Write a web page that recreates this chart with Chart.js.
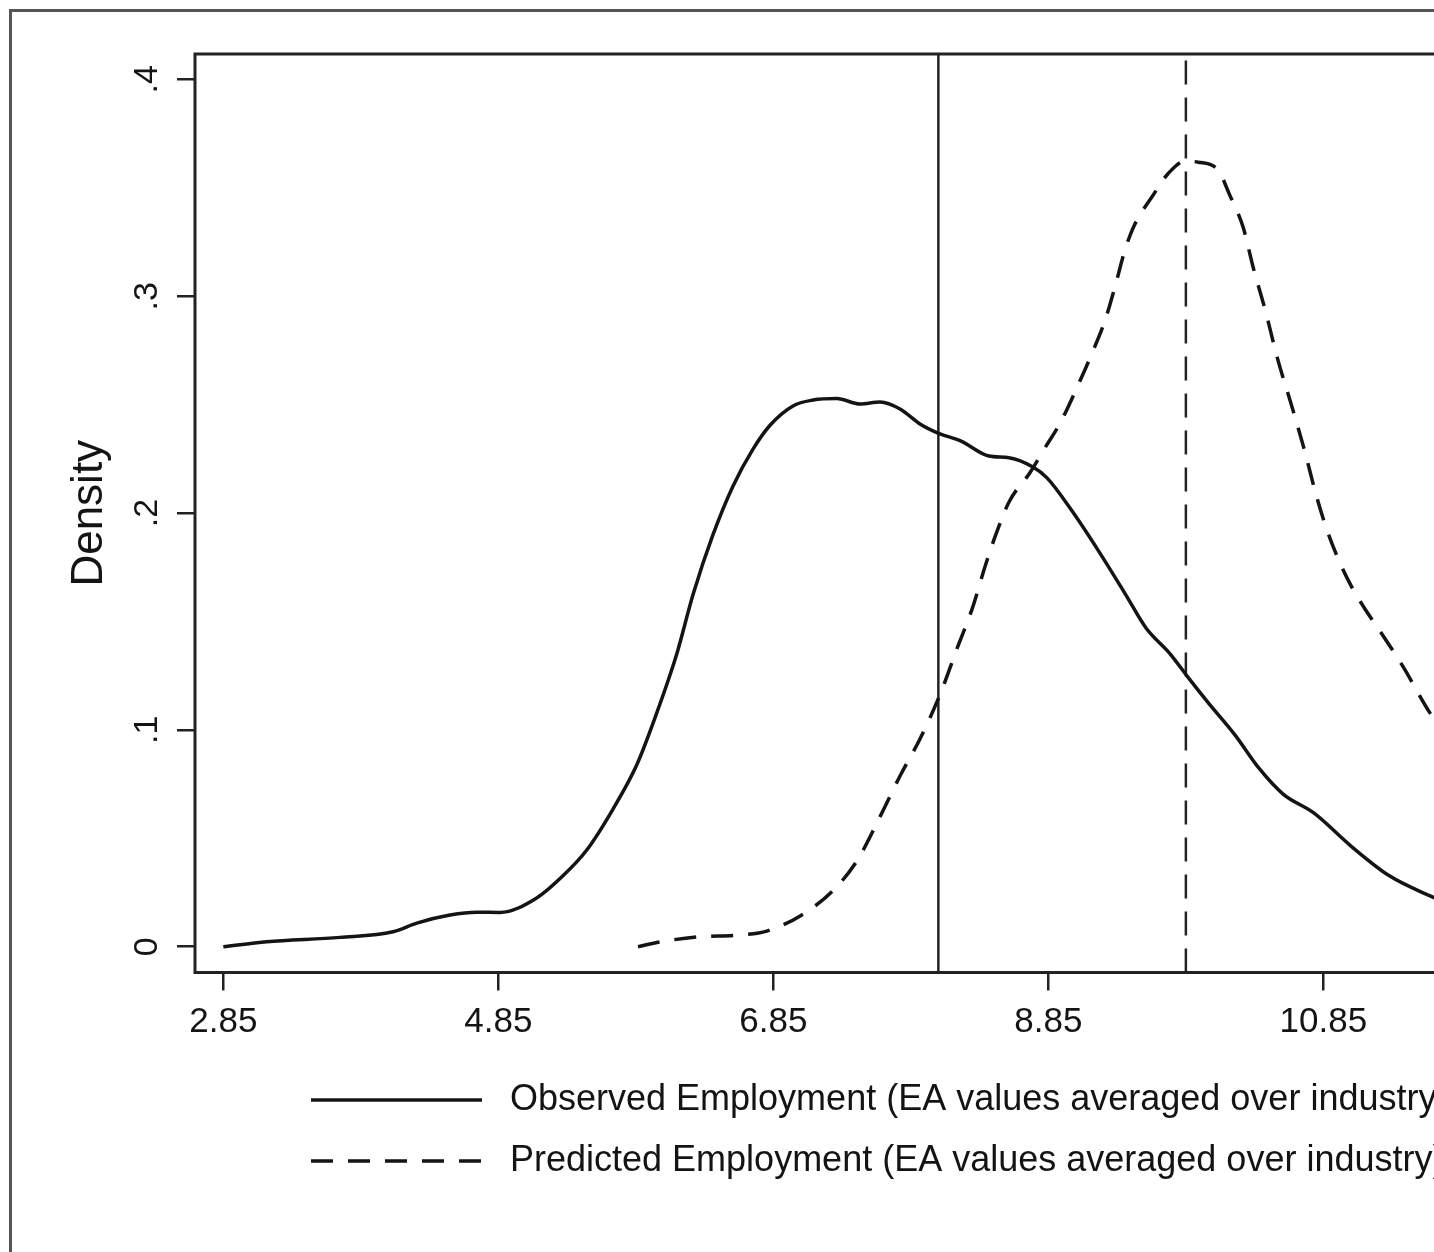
<!DOCTYPE html>
<html>
<head>
<meta charset="utf-8">
<script src="https://cdn.jsdelivr.net/npm/chart.js@4.4.1/dist/chart.umd.min.js"></script>
<style>
  html, body { margin: 0; padding: 0; background: #fff; overflow: hidden; width: 1434px; height: 1252px; }
  #wrap { position: absolute; left: 0; top: 0; width: 1700px; height: 1252px; }
  #frame { position: absolute; left: 9px; top: 9px; width: 1900px; height: 1400px; border: 3px solid #555; pointer-events: none; }
</style>
</head>
<body>
<div id="wrap"><canvas id="densityChart" width="1700" height="1252"></canvas></div>
<div id="frame"></div>
<script>
// kernel density, observed employment
const obsX = [2.85, 3.166, 3.699, 4.084, 4.257, 4.499, 4.693, 4.862, 5.129, 5.32, 5.493, 5.684, 5.857, 6.002, 6.148,
  6.266, 6.411, 6.557, 6.702, 6.826, 6.993, 7.138, 7.311, 7.48, 7.626, 7.771, 7.916, 8.047, 8.215, 8.418, 8.564,
  8.738, 8.84, 9.015, 9.211, 9.412, 9.56, 9.735, 9.859, 10.009, 10.208, 10.383, 10.557, 10.78, 11.051, 11.327,
  11.626, 11.9];
const obsY = [0, 0.0023, 0.0043, 0.0069, 0.0109, 0.0146, 0.0159, 0.0158, 0.0225, 0.0327, 0.0446, 0.0635, 0.0839,
  0.1078, 0.1351, 0.1624, 0.19, 0.2125, 0.2295, 0.2405, 0.2494, 0.2521, 0.2528, 0.2503, 0.2512, 0.248, 0.2411,
  0.2369, 0.2332, 0.2263, 0.2255, 0.2212, 0.2162, 0.2016, 0.1829, 0.1624, 0.147, 0.1351, 0.1248, 0.1128, 0.0976,
  0.0822, 0.0704, 0.0617, 0.0464, 0.0328, 0.0234, 0.016];

// kernel density, predicted employment
const predX = [5.866, 6.026, 6.293, 6.608, 6.802, 7.045, 7.284, 7.457, 7.626, 7.771, 7.916, 8.062, 8.193, 8.295,
  8.393, 8.467, 8.564, 8.717, 8.816, 8.943, 9.066, 9.168, 9.263, 9.335, 9.408, 9.47, 9.525, 9.6, 9.72, 9.845, 9.94,
  10.08, 10.17, 10.266, 10.339, 10.433, 10.513, 10.622, 10.716, 10.79, 10.861, 10.95, 11.051, 11.15, 11.255,
  11.426, 11.626, 11.85];
const predY = [0, 0.0022, 0.0045, 0.0054, 0.0072, 0.0142, 0.0259, 0.0395, 0.06, 0.0787, 0.0958, 0.1163, 0.1387,
  0.1557, 0.176, 0.1899, 0.2051, 0.2187, 0.2291, 0.2424, 0.259, 0.2738, 0.289, 0.3045, 0.3215, 0.332, 0.3384,
  0.3455, 0.3565, 0.3623, 0.3618, 0.3585, 0.3465, 0.3319, 0.3134, 0.2922, 0.272, 0.2489, 0.2282, 0.21, 0.195,
  0.18, 0.1665, 0.156, 0.1462, 0.1295, 0.1077, 0.088];

const meanObserved = 8.05;
const meanPredicted = 9.85;

const xTicks = [2.85, 4.85, 6.85, 8.85, 10.85, 12.85];
const yTicks = [0, 0.1, 0.2, 0.3, 0.4];
const yTickLabels = ['0', '.1', '.2', '.3', '.4'];
const xMin = 2.644, xMax = 13.298;
const yMin = -0.0119, yMax = 0.4117;

const seriesLabels = [
  'Observed Employment (EA values averaged over industry)',
  'Predicted Employment (EA values averaged over industry)'
];

const ink = '#141414';
const fontFamily = '"Liberation Sans", Arial, Helvetica, sans-serif';

const toPoints = (xs, ys) => xs.map((x, i) => ({ x: x, y: ys[i] }));

// box round the plot region
const framePlugin = {
  id: 'frame',
  afterDraw(chart) {
    const a = chart.chartArea;
    const ctx = chart.ctx;
    ctx.save();
    ctx.strokeStyle = '#222';
    ctx.lineWidth = 3;
    ctx.setLineDash([]);
    ctx.strokeRect(a.left, a.top, a.right - a.left, a.bottom - a.top);
    ctx.restore();
  }
};

// stata-like legend: line sample then text, one row each
const keyPlugin = {
  id: 'key',
  afterDraw(chart) {
    const ctx = chart.ctx;
    const rows = [1100, 1161];
    ctx.save();
    ctx.font = '36px ' + fontFamily;
    ctx.textBaseline = 'middle';
    ctx.textAlign = 'left';
    for (let i = 0; i < 2; i++) {
      const ds = chart.data.datasets[i];
      ctx.strokeStyle = ds.borderColor;
      ctx.lineWidth = 3.5;
      ctx.setLineDash(ds.borderDash || []);
      ctx.beginPath();
      ctx.moveTo(311, rows[i]);
      ctx.lineTo(482, rows[i]);
      ctx.stroke();
      ctx.setLineDash([]);
      ctx.fillStyle = ink;
      ctx.fillText(ds.label, 510, rows[i]);
    }
    ctx.restore();
  }
};

const ctx = document.getElementById('densityChart').getContext('2d');

new Chart(ctx, {
  type: 'line',
  data: {
    datasets: [
      {
        label: seriesLabels[0],
        data: toPoints(obsX, obsY),
        borderColor: ink,
        borderWidth: 3.5,
        pointRadius: 0,
        cubicInterpolationMode: 'monotone',
        fill: false
      },
      {
        label: seriesLabels[1],
        data: toPoints(predX, predY),
        borderColor: ink,
        borderWidth: 3.5,
        borderDash: [22, 15],
        pointRadius: 0,
        cubicInterpolationMode: 'monotone',
        fill: false
      },
      {
        label: 'mean observed',
        data: [{ x: meanObserved, y: yMin }, { x: meanObserved, y: yMax }],
        borderColor: '#222',
        borderWidth: 2.5,
        pointRadius: 0,
        fill: false
      },
      {
        label: 'mean predicted',
        data: [{ x: meanPredicted, y: yMin }, { x: meanPredicted, y: yMax }],
        borderColor: '#222',
        borderWidth: 2.5,
        borderDash: [24, 13],
        pointRadius: 0,
        fill: false
      }
    ]
  },
  options: {
    animation: false,
    responsive: false,
    devicePixelRatio: 1,
    layout: { padding: { left: 0, top: 54, right: 40, bottom: 0 } },
    plugins: {
      legend: { display: false },
      tooltip: { enabled: false }
    },
    scales: {
      x: {
        type: 'linear',
        min: xMin,
        max: xMax,
        afterBuildTicks: (s) => { s.ticks = xTicks.map(v => ({ value: v })); },
        afterFit: (s) => { s.height = 1252 - 972.5; },
        ticks: {
          color: ink,
          font: { family: fontFamily, size: 35 },
          padding: 11,
          autoSkip: false,
          maxRotation: 0,
          callback: (v) => Number(v).toFixed(2)
        },
        grid: { display: true, drawOnChartArea: false, drawTicks: true, tickLength: 18, color: '#222', lineWidth: 2.5 },
        border: { display: false }
      },
      y: {
        type: 'linear',
        min: yMin,
        max: yMax,
        afterBuildTicks: (s) => { s.ticks = yTicks.map(v => ({ value: v })); },
        afterFit: (s) => { s.width = 195; },
        ticks: {
          color: ink,
          font: { family: fontFamily, size: 34 },
          padding: 15,
          minRotation: 90,
          maxRotation: 90,
          crossAlign: 'center',
          autoSkip: false,
          callback: (v, i) => yTickLabels[i]
        },
        title: {
          display: true,
          text: 'Density',
          color: ink,
          font: { family: fontFamily, size: 44 },
          padding: { top: 63, bottom: 0 }
        },
        grid: { display: true, drawOnChartArea: false, drawTicks: true, tickLength: 18, color: '#222', lineWidth: 2.5 },
        border: { display: false }
      }
    }
  },
  plugins: [framePlugin, keyPlugin]
});
</script>
</body>
</html>
